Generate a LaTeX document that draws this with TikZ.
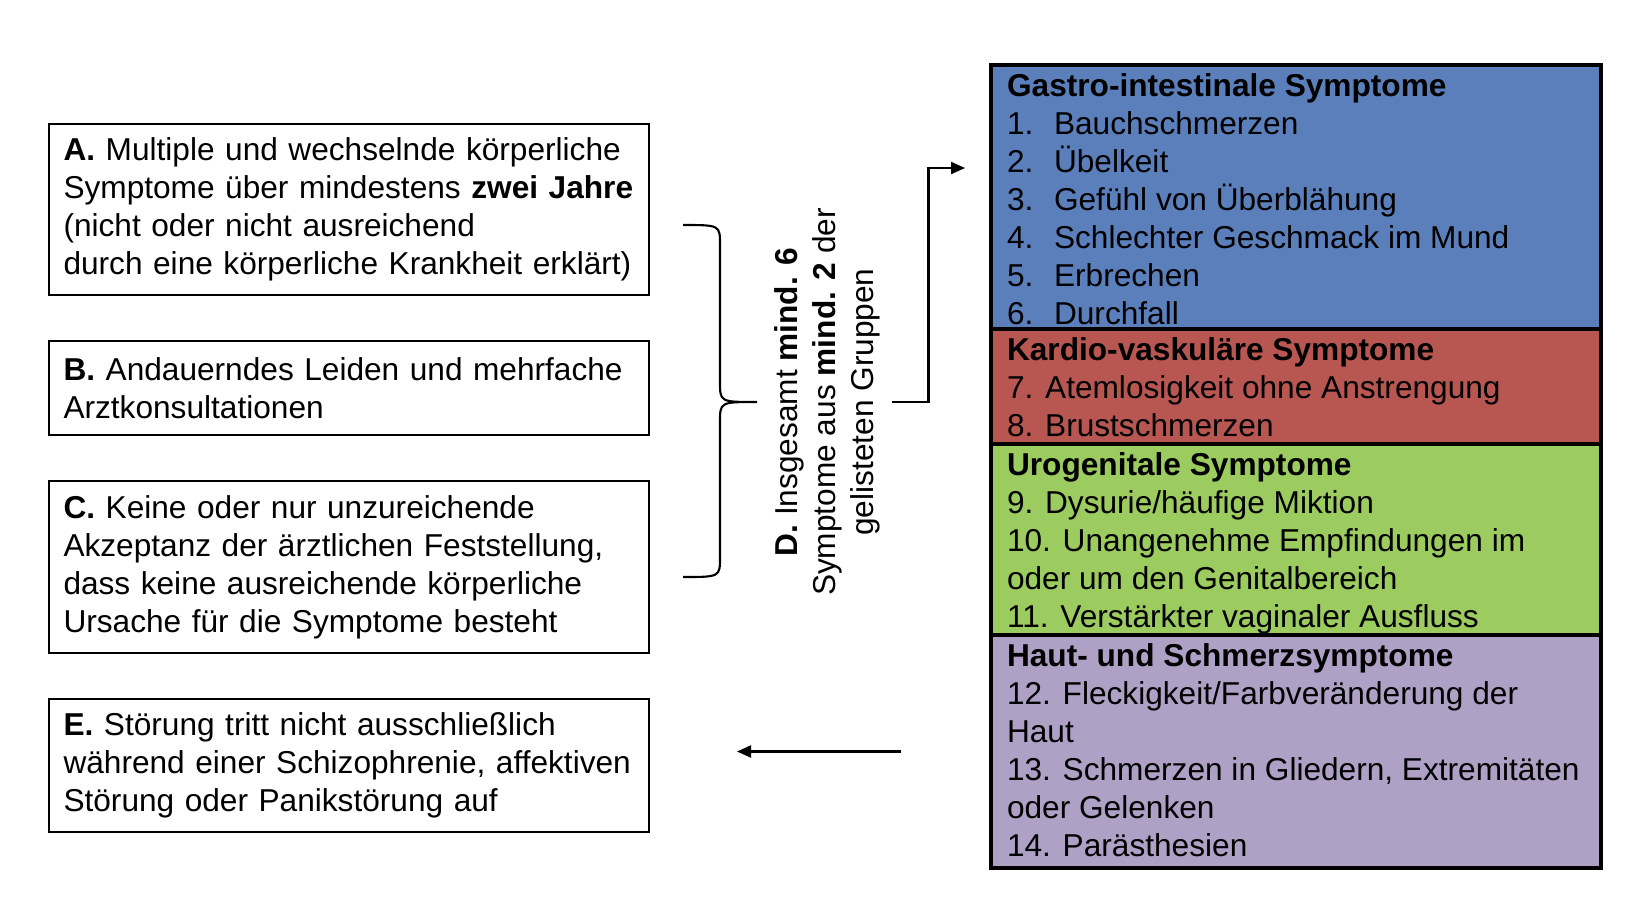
\documentclass[tikz,border=0pt]{standalone}
\usepackage{fontspec}
\setmainfont{Liberation Sans}
\usetikzlibrary{positioning, calc, arrows.meta}
\definecolor{gastroblue}{HTML}{5A7FBB}
\definecolor{kardiored}{HTML}{B85651}
\definecolor{urogreen}{HTML}{9CCB5F}
\definecolor{hautlilac}{HTML}{AFA1C6}
\tikzstyle{block} = [draw, line width=0.6pt, outer sep=0pt, text width=5.71cm,
        inner xsep=0.145cm, inner ysep=0pt, align=left]
\tikzstyle{group} = [draw, line width=1.3pt, outer sep=0pt, minimum width=6.1cm,
        inner sep=0pt]
\tikzstyle{grouptext} = [anchor=north west, align=left, inner xsep=0.15cm,
        inner ysep=0.08cm]
\newcommand{\itm}[1]{\makebox[0.47cm][l]{#1}}

\begin{document}
\begin{tikzpicture}[font=\fontsize{9pt}{10.8pt}\selectfont,
    >={Triangle[length=0.14cm,width=0.12cm]}, line width=0.6pt]
    \useasboundingbox (0,0) rectangle (16.43,-9);

    \node [block, anchor=north west, minimum height=1.71cm] (A) at (0.49,-1.24)
        {\textbf{A.} Multiple und wechselnde körperliche\\Symptome über mindestens \textbf{zwei Jahre}\\(nicht oder nicht ausreichend\\durch eine körperliche Krankheit erklärt)};
    \node [block, below=0.46cm of A, minimum height=0.94cm] (B)
        {\textbf{B.} Andauerndes Leiden und mehrfache\\Arztkonsultationen};
    \node [block, below=0.46cm of B, minimum height=1.72cm] (C)
        {\textbf{C.} Keine oder nur unzureichende\\Akzeptanz der ärztlichen Feststellung,\\dass keine ausreichende körperliche\\Ursache für die Symptome besteht};
    \node [block, below=0.46cm of C, minimum height=1.33cm] (E)
        {\textbf{E.} Störung tritt nicht ausschließlich\\während einer Schizophrenie, affektiven\\Störung oder Panikstörung auf};

    \node [rotate=90, align=center] (D) at (8.27,-4.02)
        {\textbf{D.} Insgesamt \textbf{mind. 6}\\Symptome aus \textbf{mind. 2} der\\gelisteten Gruppen};

    % symptom groups
    \node [group, fill=gastroblue, anchor=north west, minimum height=2.64cm] (gastro) at (9.91,-0.65) {};
    \node [grouptext] (gastrotxt) at (gastro.north west)
        {\textbf{Gastro-intestinale Symptome}\\\itm{1.}Bauchschmerzen\\\itm{2.}Übelkeit\\\itm{3.}Gefühl von Überblähung\\\itm{4.}Schlechter Geschmack im Mund\\\itm{5.}Erbrechen\\\itm{6.}Durchfall};
    \node [group, fill=kardiored, below=0cm of gastro, minimum height=1.15cm] (kardio) {};
    \node [grouptext] (kardiotxt) at (kardio.north west)
        {\textbf{Kardio-vaskuläre Symptome}\\7. Atemlosigkeit ohne Anstrengung\\8. Brustschmerzen};
    \node [group, fill=urogreen, below=0cm of kardio, minimum height=1.91cm] (uro) {};
    \node [grouptext] (urotxt) at (uro.north west)
        {\textbf{Urogenitale Symptome}\\9. Dysurie/häufige Miktion\\10. Unangenehme Empfindungen im\\oder um den Genitalbereich\\11. Verstärkter vaginaler Ausfluss};
    \node [group, fill=hautlilac, below=0cm of uro, minimum height=2.33cm] (haut) {};
    \node [grouptext] (hauttxt) at (haut.north west)
        {\textbf{Haut- und Schmerzsymptome}\\12. Fleckigkeit/Farbveränderung der\\Haut\\13. Schmerzen in Gliedern, Extremitäten\\oder Gelenken\\14. Parästhesien};

    % brace over A, B, C
    \coordinate (bt) at (6.83,-2.25);
    \coordinate (bb) at (6.83,-5.77);
    \coordinate (btip) at (7.57,-4.02);
    \draw (bt) .. controls (7.2,-2.25) .. (7.2,-2.45) -- (7.2,-3.82)
        .. controls (7.2,-4.02) .. (btip) .. controls (7.2,-4.02) .. (7.2,-4.22)
        -- (7.2,-5.57) .. controls (7.2,-5.77) .. (bb);

    \coordinate (gin) at (9.65,-1.68);
    \draw[->] (D.south) -- ++(0.36,0) |- (gin);
    \draw[->] ([xshift=-0.9cm]haut.west) -- ++(-1.64,0);
\end{tikzpicture}
\end{document}
